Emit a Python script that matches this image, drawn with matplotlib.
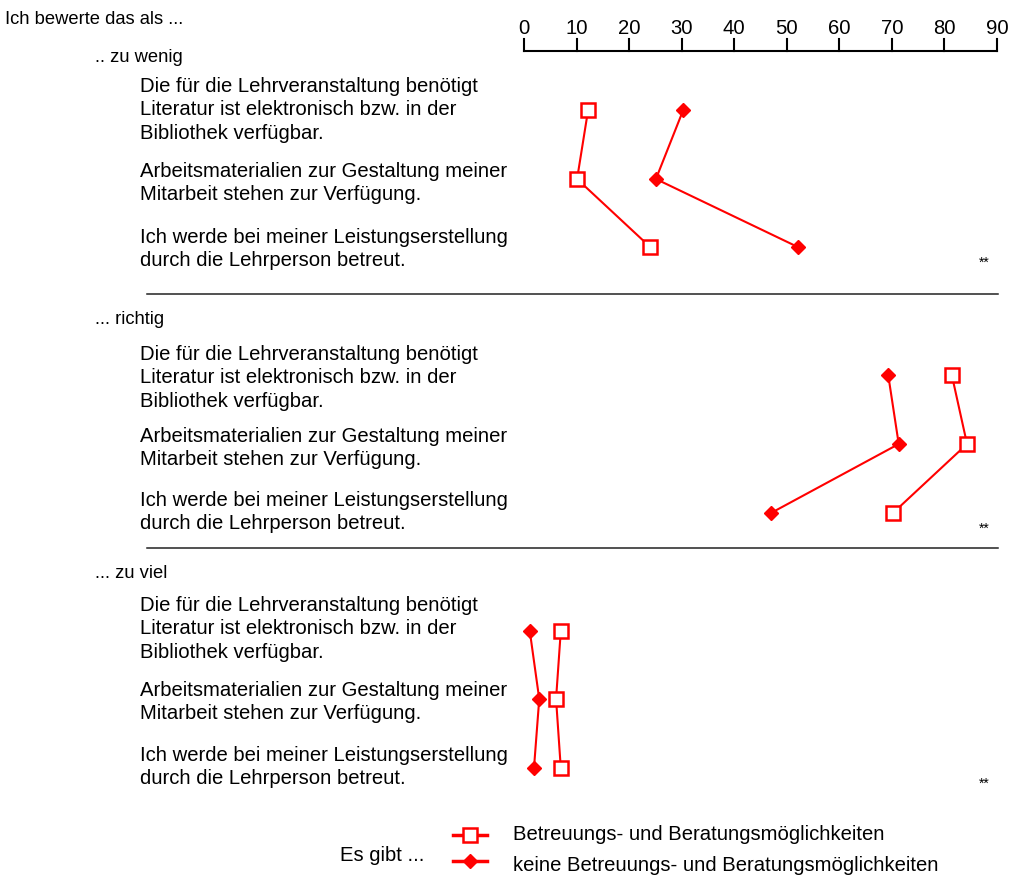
import matplotlib.pyplot as plt
import numpy as np

plt.rcParams['font.family'] = ['Liberation Sans', 'DejaVu Sans']

# data (percent)
sections = [".. zu wenig", "... richtig", "... zu viel"]
items = ["Die für die Lehrveranstaltung benötigt\nLiteratur ist elektronisch bzw. in der\nBibliothek verfügbar.",
         "Arbeitsmaterialien zur Gestaltung meiner\nMitarbeit stehen zur Verfügung.",
         "Ich werde bei meiner Leistungserstellung\ndurch die Lehrperson betreut."]
mit_betreuung = [[12.2, 10.1, 24.0],
                 [81.4, 84.3, 70.2],
                 [7.0, 6.1, 7.0]]
ohne_betreuung = [[30.3, 25.1, 52.1],
                  [69.3, 71.3, 47.0],
                  [1.1, 2.9, 1.9]]
signif = ["**", "**", "**"]
ticks = [0, 10, 20, 30, 40, 50, 60, 70, 80, 90]

W, H = 1012, 879
fig = plt.figure(figsize=(W / 100, H / 100), dpi=100)
x0, x1 = 524, 997
ax = fig.add_axes([x0 / W, 0, (x1 - x0) / W, 1])
ax.set_xlim(0, 90)
ax.set_ylim(H, 0)
ax.axis('off')

px = (x1 - x0) / 90.0
def xd(p):
    # pixel -> data x
    return (p - x0) / px

red = '#ff0000'
fs = 14.6
fs_head = 13.2

# top axis
ax.plot([0, 90], [52, 52], color='black', lw=1.5, clip_on=False)
for t in ticks:
    ax.plot([t, t], [40, 52], color='black', lw=1.5, clip_on=False)
    ax.text(t, 29, str(t), ha='center', va='center', fontsize=fs, clip_on=False)

fig.text(5 / W, 1 - 19 / H, "Ich bewerte das als ...", fontsize=fs_head, va='center', ha='left')

sec_y = [57, 319, 573]
row_y = [[111, 180, 248], [376, 445, 514], [632, 700, 769]]
lab_y = [[110, 183, 249], [378, 448, 512], [629, 702, 767]]
sep_y = [295, 549]

for s in range(3):
    fig.text(95 / W, 1 - sec_y[s] / H, sections[s], fontsize=fs_head, va='center', ha='left')
    for i in range(3):
        fig.text(140 / W, 1 - lab_y[s][i] / H, items[i], fontsize=fs, va='center', ha='left',
                 linespacing=1.28)
    ax.plot(mit_betreuung[s], row_y[s], color=red, lw=1.5, marker='s', ms=9.5,
            mfc='white', mec=red, mew=1.8, clip_on=False)
    ax.plot(ohne_betreuung[s], row_y[s], color=red, lw=1.5, marker='D', ms=7.5,
            mfc=red, mec=red, clip_on=False)
    ax.text(xd(984), row_y[s][2] + 15, signif[s], fontsize=10, ha='center', va='center', clip_on=False)

for y in sep_y:
    ax.plot([xd(147), xd(998)], [y, y], color='#222222', lw=1.1, clip_on=False)

# legend
fig.text(340 / W, 1 - 856 / H, "Es gibt ...", fontsize=fs, va='center', ha='left')
ax.plot([xd(453), xd(470), xd(487)], [836, 836, 836], color=red, lw=2.5, clip_on=False)
ax.plot([xd(470)], [836], marker='s', ms=9.5, mfc='white', mec=red, mew=1.8, clip_on=False)
ax.plot([xd(453), xd(487)], [862, 862], color=red, lw=2.5, clip_on=False)
ax.plot([xd(470)], [862], marker='D', ms=7.5, mfc=red, mec=red, clip_on=False)
fig.text(513 / W, 1 - 835 / H, "Betreuungs- und Beratungsmöglichkeiten", fontsize=fs, va='center', ha='left')
fig.text(513 / W, 1 - 866 / H, "keine Betreuungs- und Beratungsmöglichkeiten", fontsize=fs, va='center', ha='left')

fig.savefig("out.png", dpi=100)
